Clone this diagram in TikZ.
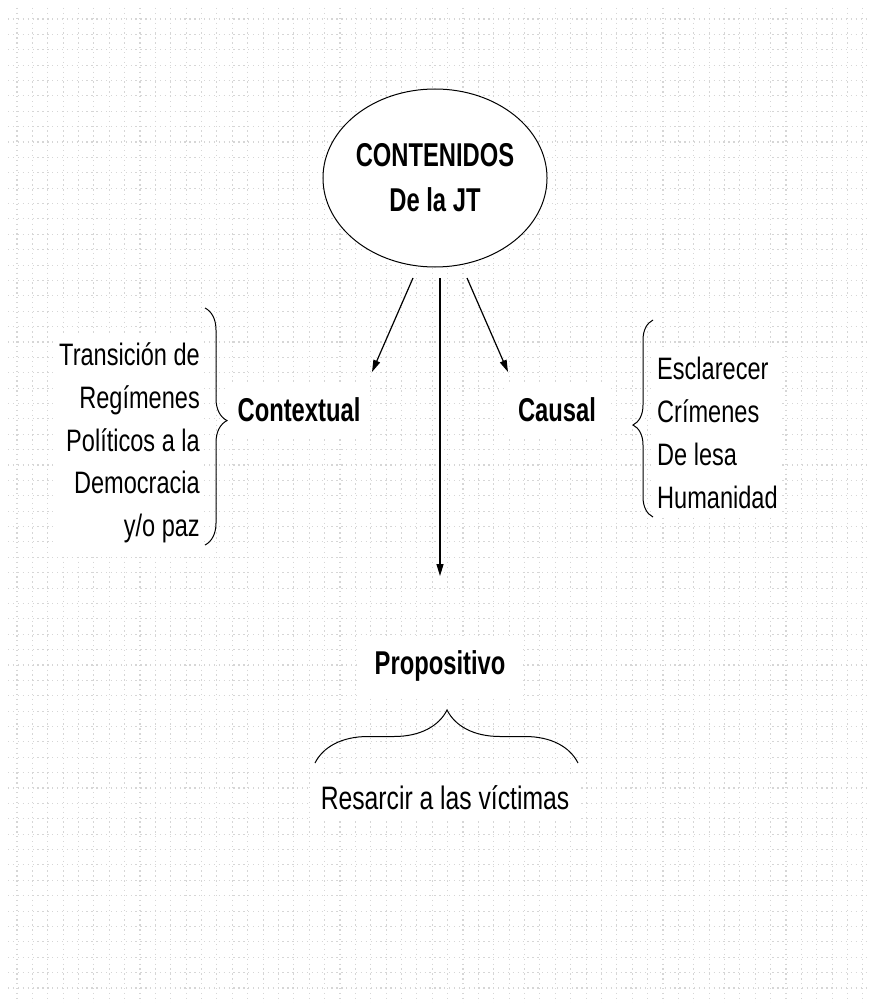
\documentclass[tikz,border=0pt]{standalone}
\usepackage{fontspec}
\setmainfont{Liberation Sans}
\newfontfamily\rfnt{Liberation Sans}[FakeStretch=0.76]
\newfontfamily\bfnt{Liberation Sans}[FakeStretch=0.72]
\usetikzlibrary{arrows.meta,shapes.geometric,decorations.pathreplacing}
\tikzset{
  gridline/.style={draw=black!16, line width=1.1pt, dash pattern=on 1.3pt off 3.6pt},
  bold/.style={font=\bfnt\bfseries\fontsize{33}{45}\selectfont, fill=white, inner sep=0pt},
  reg/.style={font=\rfnt\fontsize{31}{42.75}\selectfont, fill=white, inner sep=0pt},
  arr/.style={line width=1.2pt, -{Triangle[length=12pt,width=7pt]}},
  bracepath/.style={line width=1pt, decorate},
}
\begin{document}
\begin{tikzpicture}[x=1pt,y=-1pt]
\useasboundingbox (0,0) rectangle (870,1003);
\fill[white] (0,0) rectangle (870,1003);
% grid
\foreach \i in {0,...,55} \draw[gridline] ({17+\i*15.38},8) -- ({17+\i*15.38},1003);
\foreach \j in {0,...,64} \draw[gridline] (8,{19+\j*15.38}) -- (868,{19+\j*15.38});

% ellipse
\node[ellipse, draw, line width=1pt, fill=white, minimum width=210pt, minimum height=178pt,
      font=\bfnt\bfseries\fontsize{33}{45}\selectfont, align=center, inner sep=0pt]
  (jt) at (435,178) {CONTENIDOS\\De la JT};

% white backgrounds + labels
\node[bold, minimum width=142pt, minimum height=52pt] (ctx) at (299,410) {Contextual};
\node[bold, minimum width=107pt, minimum height=52pt] (cau) at (557,410) {Causal};
\node[bold, minimum width=166pt, minimum height=60pt] (pro) at (440,666) {Propositivo};
\node[reg, font=\rfnt\fontsize{32.5}{42.75}\selectfont, minimum width=270pt, minimum height=45pt] (res) at (445,798) {Resarcir a las víctimas};

\node[reg, align=right, anchor=east, inner xsep=3pt, inner ysep=10pt] (ltx) at (203,443)
  {Transición de\\Regímenes\\Políticos a la\\Democracia\\y/o paz};
\node[reg, align=left, anchor=west, inner xsep=2pt, inner ysep=8pt] (rtx) at (655,433)
  {Esclarecer\\Crímenes\\De lesa\\Humanidad};

% arrows
\coordinate (a1s) at (413,278); \coordinate (a1e) at (372,372);
\coordinate (a2s) at (440,278); \coordinate (a2e) at (440,576);
\coordinate (a3s) at (467,278); \coordinate (a3e) at (508,372);
\draw[arr] (a1s) -- (a1e);
\draw[arr] (a2s) -- (a2e);
\draw[arr] (a3s) -- (a3e);

% braces
\coordinate (b1t) at (205,308); \coordinate (b1b) at (205,545);
\draw[bracepath, decoration={brace, amplitude=22pt, aspect=0.475}] (b1t) -- (b1b);
\coordinate (b2t) at (653,320); \coordinate (b2b) at (653,517);
\draw[bracepath, decoration={brace, amplitude=20pt, aspect=0.467}] (b2b) -- (b2t);
\coordinate (b3l) at (315,763); \coordinate (b3r) at (578,763);
\draw[bracepath, decoration={brace, amplitude=53pt, aspect=0.502}] (b3l) -- (b3r);
\end{tikzpicture}
\end{document}
